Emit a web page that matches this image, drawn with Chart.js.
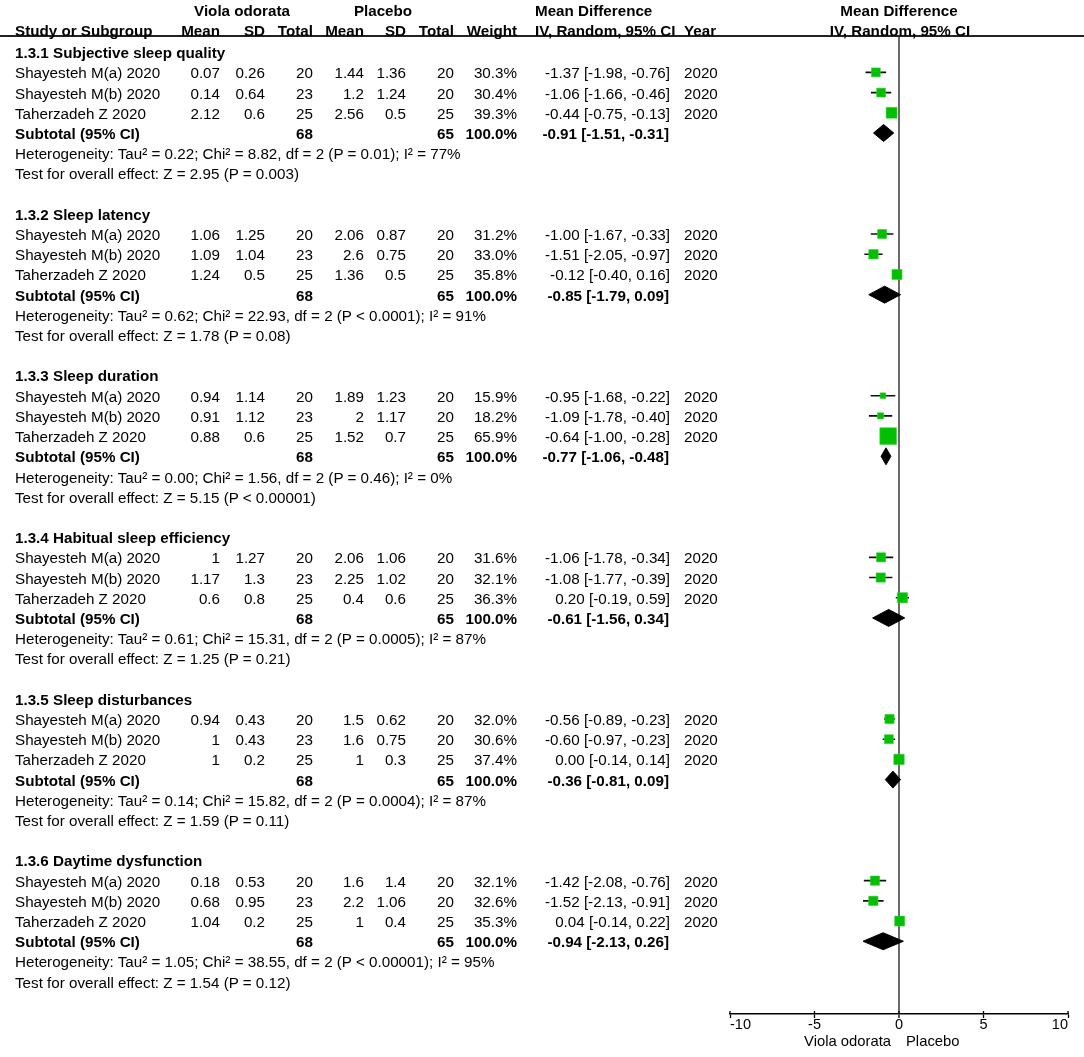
<!DOCTYPE html>
<html><head><meta charset="utf-8">
<script src="https://cdn.jsdelivr.net/npm/chart.js@4.4.0/dist/chart.umd.min.js"></script>
<style>
html,body{margin:0;padding:0;background:#fff;}
#wrap{position:relative;width:1084px;height:1057px;overflow:hidden;font-family:"Liberation Sans",Arial,sans-serif;color:#000;}
#c{position:absolute;left:0;top:0;}
.t{position:absolute;white-space:nowrap;font-size:15.2px;line-height:17px;transform:translateY(-50%);}
.r{transform:translate(-100%,-50%);}
.m{transform:translate(-50%,-50%);}
.b{font-weight:bold;}
.ax{font-size:14.8px;line-height:16px;}
</style></head><body><div id="wrap"><canvas id="c" width="1084" height="1057" style="width:1084px;height:1057px"></canvas></div>
<script>
// ---------------- DATA ----------------
const subgroups = ['1.3.1 Subjective sleep quality','1.3.2 Sleep latency','1.3.3 Sleep duration','1.3.4 Habitual sleep efficiency','1.3.5 Sleep disturbances','1.3.6 Daytime dysfunction'];
const studies = ['Shayesteh M(a) 2020','Shayesteh M(b) 2020','Taherzadeh Z 2020'];
const studyYears = [2020,2020,2020];
const violaMean = [[0.07,0.14,2.12],[1.06,1.09,1.24],[0.94,0.91,0.88],[1,1.17,0.6],[0.94,1,1],[0.18,0.68,1.04]];
const violaSD = [[0.26,0.64,0.6],[1.25,1.04,0.5],[1.14,1.12,0.6],[1.27,1.3,0.8],[0.43,0.43,0.2],[0.53,0.95,0.2]];
const violaN = [20,23,25];
const placeboMean = [[1.44,1.2,2.56],[2.06,2.6,1.36],[1.89,2,1.52],[2.06,2.25,0.4],[1.5,1.6,1],[1.6,2.2,1]];
const placeboSD = [[1.36,1.24,0.5],[0.87,0.75,0.5],[1.23,1.17,0.7],[1.06,1.02,0.6],[0.62,0.75,0.3],[1.4,1.06,0.4]];
const placeboN = [20,20,25];
const weights = [[30.3,30.4,39.3],[31.2,33.0,35.8],[15.9,18.2,65.9],[31.6,32.1,36.3],[32.0,30.6,37.4],[32.1,32.6,35.3]];
const md = [[-1.37,-1.06,-0.44],[-1.00,-1.51,-0.12],[-0.95,-1.09,-0.64],[-1.06,-1.08,0.20],[-0.56,-0.60,0.00],[-1.42,-1.52,0.04]];
const mdLo = [[-1.98,-1.66,-0.75],[-1.67,-2.05,-0.40],[-1.68,-1.78,-1.00],[-1.78,-1.77,-0.19],[-0.89,-0.97,-0.14],[-2.08,-2.13,-0.14]];
const mdHi = [[-0.76,-0.46,-0.13],[-0.33,-0.97,0.16],[-0.22,-0.40,-0.28],[-0.34,-0.39,0.59],[-0.23,-0.23,0.14],[-0.76,-0.91,0.22]];
const subMD = [-0.91,-0.85,-0.77,-0.61,-0.36,-0.94];
const subLo = [-1.51,-1.79,-1.06,-1.56,-0.81,-2.13];
const subHi = [-0.31,0.09,-0.48,0.34,0.09,0.26];
const violaTotal = 68;
const placeboTotal = 65;
const heterogeneity = [
  'Heterogeneity: Tau² = 0.22; Chi² = 8.82, df = 2 (P = 0.01); I² = 77%',
  'Heterogeneity: Tau² = 0.62; Chi² = 22.93, df = 2 (P < 0.0001); I² = 91%',
  'Heterogeneity: Tau² = 0.00; Chi² = 1.56, df = 2 (P = 0.46); I² = 0%',
  'Heterogeneity: Tau² = 0.61; Chi² = 15.31, df = 2 (P = 0.0005); I² = 87%',
  'Heterogeneity: Tau² = 0.14; Chi² = 15.82, df = 2 (P = 0.0004); I² = 87%',
  'Heterogeneity: Tau² = 1.05; Chi² = 38.55, df = 2 (P < 0.00001); I² = 95%'];
const overallEffect = [
  'Test for overall effect: Z = 2.95 (P = 0.003)',
  'Test for overall effect: Z = 1.78 (P = 0.08)',
  'Test for overall effect: Z = 5.15 (P < 0.00001)',
  'Test for overall effect: Z = 1.25 (P = 0.21)',
  'Test for overall effect: Z = 1.59 (P = 0.11)',
  'Test for overall effect: Z = 1.54 (P = 0.12)'];
const xTicks = [-10,-5,0,5,10];
const favourLeft = 'Viola odorata';
const favourRight = 'Placebo';

// ---------------- LAYOUT ----------------
const ROWS_PER_GROUP = 8;
const rowOf = (s, k) => s * ROWS_PER_GROUP + k;
const sideFromWeight = w => 2.2 + 0.22 * w;   // square side in px
const DIAMOND_HALF = 0.42;                    // in row units

const squarePts = [], squareRadii = [], whiskerPts = [];
subgroups.forEach((g, s) => {
  studies.forEach((st, i) => {
    const r = rowOf(s, 1 + i);
    squarePts.push({x: md[s][i], y: r});
    squareRadii.push(sideFromWeight(weights[s][i]) / (2 * Math.SQRT1_2));
    whiskerPts.push({x: mdLo[s][i], y: r}, {x: mdHi[s][i], y: r}, {x: mdHi[s][i], y: null});
  });
});
const diamondSets = subgroups.map((g, s) => {
  const r = rowOf(s, 4);
  return {
    type: 'line', showLine: true, fill: 'shape', tension: 0,
    data: [{x: subLo[s], y: r}, {x: subMD[s], y: r - DIAMOND_HALF}, {x: subHi[s], y: r}, {x: subMD[s], y: r + DIAMOND_HALF}, {x: subLo[s], y: r}],
    borderColor: '#000', backgroundColor: '#000', borderWidth: 1, pointRadius: 0, order: 3
  };
});

const tickUp = {
  id: 'tickUp',
  afterDraw(ch) {
    const x = ch.scales.x, ctx = ch.ctx, yb = ch.chartArea.bottom;
    ctx.save(); ctx.strokeStyle = '#000'; ctx.lineWidth = 1.3;
    x.ticks.forEach(t => { const px = x.getPixelForValue(t.value); ctx.beginPath(); ctx.moveTo(px, yb); ctx.lineTo(px, yb - 3); ctx.stroke(); });
    ctx.restore();
  }
};

const chart = new Chart(document.getElementById('c'), {
  type: 'scatter',
  data: {
    datasets: [
      {data: squarePts, pointStyle: 'rect', pointRadius: squareRadii, pointHoverRadius: squareRadii,
       backgroundColor: '#00c000', borderColor: '#40cc40', borderWidth: 0.6, order: 1},
      {type: 'line', showLine: true, data: whiskerPts, borderColor: '#111', borderWidth: 1.6, pointRadius: 0, spanGaps: false, fill: false, order: 2},
      ...diamondSets
    ]
  },
  options: {
    responsive: false, animation: false, devicePixelRatio: 1,
    layout: {padding: {left: 730, right: 16, top: 36, bottom: 0}},
    plugins: {legend: {display: false}, tooltip: {enabled: false}},
    scales: {
      x: {
        type: 'linear', min: -10, max: 10,
        afterBuildTicks: sc => { sc.ticks = xTicks.map(v => ({value: v})); },
        afterFit: sc => { sc.height = 43; },
        ticks: {color: '#000', font: {family: 'Liberation Sans', size: 14.5}, padding: -2, align: 'inner', callback: v => String(v), maxRotation: 0},
        grid: {
          drawOnChartArea: true, drawTicks: true, tickLength: 4, tickColor: '#000', tickWidth: 1.3,
          color: c => (c.tick && c.tick.value === 0) ? '#6a6a6a' : 'rgba(0,0,0,0)',
          lineWidth: c => (c.tick && c.tick.value === 0) ? 2 : 1
        },
        border: {display: true, color: '#000', width: 1.5}
      },
      y: {type: 'linear', reverse: true, min: -0.8, max: 47.6, display: false}
    }
  },
  plugins: [tickUp]
});

// ---------------- TEXT ----------------
const wrap = document.getElementById('wrap');
const ys = chart.scales.y, xs = chart.scales.x;
const col = {study: 15, vMean: 220, vSD: 265, vN: 313, pMean: 364, pSD: 406, pN: 454, weight: 517, ci: 670, year: 684, ciHead: 535};
function txt(t, x, y, cls) {
  const d = document.createElement('div');
  d.className = 't ' + (cls || '');
  d.textContent = t; d.style.left = x + 'px'; d.style.top = y + 'px';
  wrap.appendChild(d);
}
const f2 = v => v.toFixed(2);
// header
const line = document.createElement('div');
line.style.cssText = 'position:absolute;left:0;width:1084px;height:1.6px;background:#222;top:' + (chart.chartArea.top - 1) + 'px';
wrap.appendChild(line);
const yH1 = ys.getPixelForValue(-2.08), yH2 = ys.getPixelForValue(-1.12);
const x0 = xs.getPixelForValue(0);
txt('Viola odorata', 242, yH1, 'b m');
txt('Placebo', 383, yH1, 'b m');
txt('Mean Difference', col.ciHead, yH1, 'b');
txt('Mean Difference', x0, yH1, 'b m');
txt('Study or Subgroup', col.study, yH2, 'b');
txt('Mean', col.vMean, yH2, 'b r');
txt('SD', col.vSD, yH2, 'b r');
txt('Total', col.vN, yH2, 'b r');
txt('Mean', col.pMean, yH2, 'b r');
txt('SD', col.pSD, yH2, 'b r');
txt('Total', col.pN, yH2, 'b r');
txt('Weight', col.weight, yH2, 'b r');
txt('IV, Random, 95% CI', col.ciHead, yH2, 'b');
txt('Year', col.year, yH2, 'b');
txt('IV, Random, 95% CI', x0 + 1, yH2, 'b m');

subgroups.forEach((g, s) => {
  txt(g, col.study, ys.getPixelForValue(rowOf(s, 0)), 'b');
  studies.forEach((st, i) => {
    const y = ys.getPixelForValue(rowOf(s, 1 + i));
    txt(st, col.study, y);
    txt(String(violaMean[s][i]), col.vMean, y, 'r');
    txt(String(violaSD[s][i]), col.vSD, y, 'r');
    txt(String(violaN[i]), col.vN, y, 'r');
    txt(String(placeboMean[s][i]), col.pMean, y, 'r');
    txt(String(placeboSD[s][i]), col.pSD, y, 'r');
    txt(String(placeboN[i]), col.pN, y, 'r');
    txt(weights[s][i].toFixed(1) + '%', col.weight, y, 'r');
    txt(f2(md[s][i]) + ' [' + f2(mdLo[s][i]) + ', ' + f2(mdHi[s][i]) + ']', col.ci, y, 'r');
    txt(String(studyYears[i]), col.year, y);
  });
  const ysub = ys.getPixelForValue(rowOf(s, 4));
  txt('Subtotal (95% CI)', col.study, ysub, 'b');
  txt(String(violaTotal), col.vN, ysub, 'b r');
  txt(String(placeboTotal), col.pN, ysub, 'b r');
  txt('100.0%', col.weight, ysub, 'b r');
  txt(f2(subMD[s]) + ' [' + f2(subLo[s]) + ', ' + f2(subHi[s]) + ']', col.ci - 1, ysub, 'b r');
  txt(heterogeneity[s], col.study, ys.getPixelForValue(rowOf(s, 5)));
  txt(overallEffect[s], col.study, ys.getPixelForValue(rowOf(s, 6)));
});
// favours labels under the axis
const yFav = chart.chartArea.bottom + 27;
txt(favourLeft, x0 - 8, yFav, 'ax r');
txt(favourRight, x0 + 7, yFav, 'ax');
</script></body></html>
